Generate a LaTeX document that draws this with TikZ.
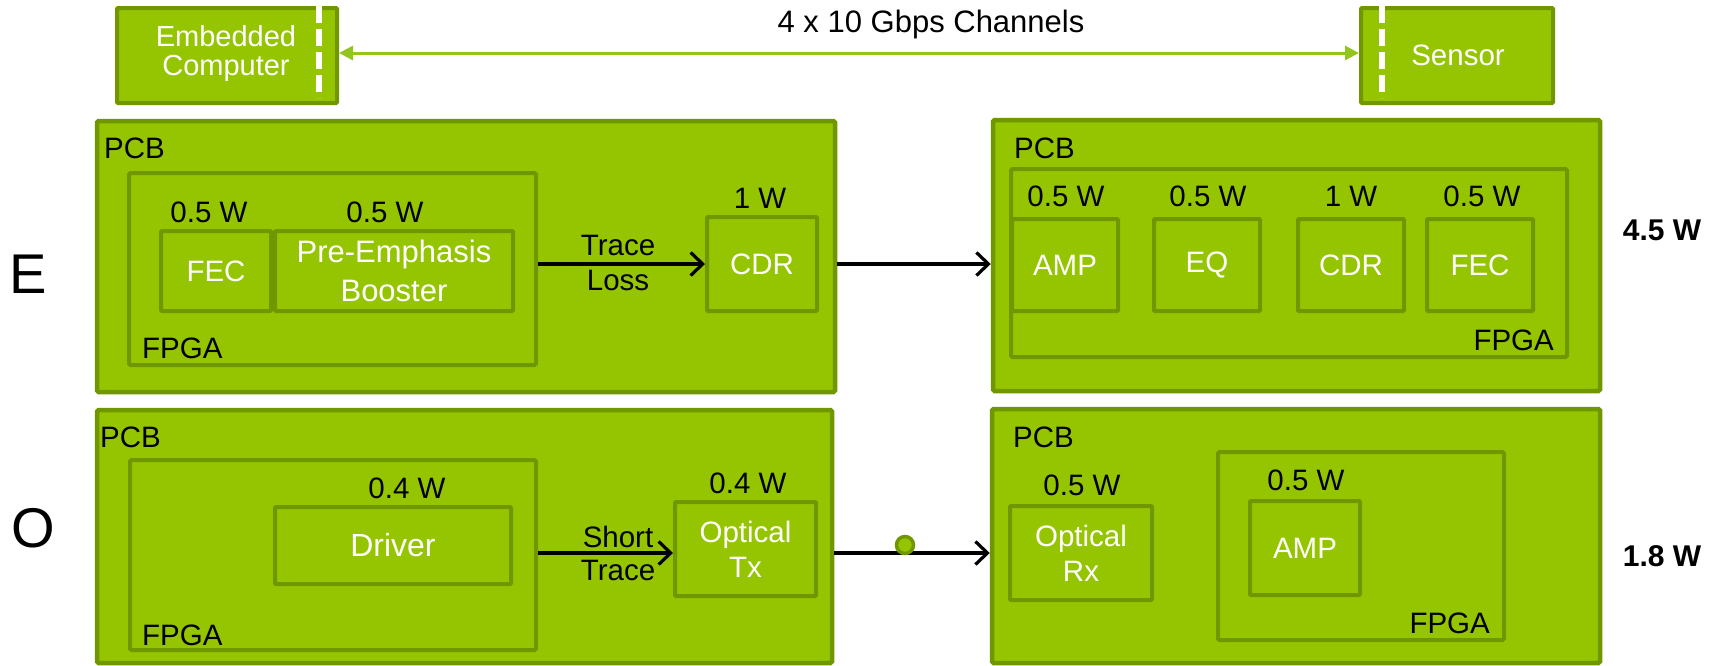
\documentclass[tikz,border=0pt]{standalone}
\usepackage{fontspec}
\setmainfont{Liberation Sans}
\usetikzlibrary{arrows.meta}
\definecolor{gr}{RGB}{148,197,0}
\definecolor{bd}{RGB}{112,150,0}
\definecolor{ag}{RGB}{146,198,30}
\newcommand\fs{\fontsize{29.5}{35}\selectfont}
\tikzset{
  pcb/.style={draw=bd, fill=gr, line width=4.5pt, rounded corners=1.5pt, inner sep=0pt},
  blk/.style={draw=bd, fill=gr, line width=4pt, rounded corners=1pt, inner sep=0pt, text=white, font=\fs, align=center},
  lbl/.style={inner sep=0pt, font=\fs, align=center},
  wlbl/.style={inner sep=0pt, font=\fontsize{30}{35}\selectfont\bfseries},
  big/.style={inner sep=0pt, font=\fontsize{56}{60}\selectfont},
  arr/.style={line width=3.2pt, -{Straight Barb[length=12pt,width=23pt,line width=3.2pt]}},
  wdash/.style={white, line width=6.5pt, dash pattern=on 17pt off 6pt},
}
\begin{document}
\begin{tikzpicture}[x=1pt,y=-1pt]
\useasboundingbox (0,0) rectangle (1721,665);
% top row
\node[blk, minimum width=220pt, minimum height=95pt] (emb) at (227,55.5) {};
\node[inner sep=0pt, text=white, font=\fontsize{29}{29}\selectfont, align=center] (embt) at (226,53) {Embedded\\Computer};
\coordinate (e1) at (319,6);
\coordinate (e2) at (319,98);
\draw[wdash] (e1) -- (e2);
\node[blk, minimum width=192pt, minimum height=95pt] (sen) at (1457,55.5) {};
\node[inner sep=0pt, text=white, font=\fontsize{29.5}{35}\selectfont] (sent) at (1458,55) {Sensor};
\coordinate (s1) at (1382,6);
\coordinate (s2) at (1382,98);
\draw[wdash] (s1) -- (s2);
\draw[ag, line width=3pt, {Triangle[length=14pt,width=14pt]}-{Triangle[length=14pt,width=14pt]}] (emb.east |- 0,53) -- (sen.west |- 0,53);
\node[lbl, font=\fontsize{31}{35}\selectfont] (ch) at (931,24) {4 x 10 Gbps Channels};

% E row left
\node[pcb, minimum width=738pt, minimum height=271pt] (pcb1) at (466,256.5) {};
\node[lbl, anchor=west] (pcb1l) at (104,148) {PCB};
\node[pcb, line width=4pt, minimum width=407pt, minimum height=192pt] (fpga1) at (332.5,269) {};
\node[lbl, anchor=west] (fpga1l) at (142,348) {FPGA};
\node[blk, minimum width=110pt, minimum height=80pt] (fec1) at (216,271) {FEC};
\node[lbl] (fec1w) at (209,212) {0.5 W};
\node[blk, font=\fontsize{31}{39}\selectfont, minimum width=238pt, minimum height=80pt] (pre) at (394,271) {Pre-Emphasis\\Booster};
\node[lbl] (prew) at (385,212) {0.5 W};
\node[blk, minimum width=110pt, minimum height=94pt] (cdr1) at (762,264) {CDR};
\node[lbl] (cdr1w) at (760,198) {1 W};
\draw[arr] (fpga1.east |- cdr1.west) -- (cdr1.west);
\node[lbl] (tl1) at (618,245) {Trace};
\node[lbl] (tl2) at (618,280) {Loss};

% E row right
\node[pcb, minimum width=607pt, minimum height=271pt] (pcb2) at (1296.5,255.5) {};
\node[lbl, anchor=west] (pcb2l) at (1014,148) {PCB};
\node[pcb, line width=4pt, minimum width=556pt, minimum height=188pt] (fpga2) at (1289,263) {};
\node[lbl, anchor=east] (fpga2l) at (1554,340) {FPGA};
\node[blk, minimum width=106pt, minimum height=92pt] (amp2) at (1065,265) {AMP};
\node[blk, minimum width=106pt, minimum height=92pt] (eq2) at (1207,265) {EQ};
\node[blk, minimum width=106pt, minimum height=92pt] (cdr2) at (1351,265) {CDR};
\node[blk, minimum width=106pt, minimum height=92pt] (fec2) at (1480,265) {FEC};
\node[lbl] (amp2w) at (1066,196) {0.5 W};
\node[lbl] (eq2w) at (1208,196) {0.5 W};
\node[lbl] (cdr2w) at (1351,196) {1 W};
\node[lbl] (fec2w) at (1482,196) {0.5 W};
\draw[arr] (pcb1.east |- cdr1.east) -- (pcb2.west |- cdr1.east);

% O row left
\node[pcb, minimum width=735pt, minimum height=253pt] (pcb3) at (464.5,536.5) {};
\node[lbl, anchor=west] (pcb3l) at (100,437) {PCB};
\node[pcb, line width=4pt, minimum width=406pt, minimum height=190pt] (fpga3) at (333,555) {};
\node[lbl, anchor=west] (fpga3l) at (142,635) {FPGA};
\node[blk, font=\fontsize{32}{35}\selectfont, minimum width=236pt, minimum height=77pt] (drv) at (393,545.5) {Driver};
\node[lbl] (drvw) at (407,488) {0.4 W};
\node[blk, minimum width=141pt, minimum height=94pt] (otx) at (745.5,549) {Optical\\Tx};
\node[lbl] (otxw) at (748,483) {0.4 W};
\coordinate (st) at (fpga3.east |- 0,553);
\draw[arr] (st) -- (otx.west |- st);
\node[lbl] (sh1) at (618,537) {Short};
\node[lbl] (sh2) at (618,570) {Trace};

% O row right
\node[pcb, minimum width=608pt, minimum height=254pt] (pcb4) at (1296,536) {};
\node[lbl, anchor=west] (pcb4l) at (1013,437) {PCB};
\node[blk, minimum width=142pt, minimum height=94pt] (orx) at (1081,553) {Optical\\Rx};
\node[lbl] (orxw) at (1082,485) {0.5 W};
\node[pcb, line width=4pt, minimum width=286pt, minimum height=188pt] (fpga4) at (1361,546) {};
\node[lbl, anchor=east] (fpga4l) at (1490,623) {FPGA};
\node[blk, minimum width=110pt, minimum height=94pt] (amp4) at (1305,548) {AMP};
\node[lbl] (amp4w) at (1306,480) {0.5 W};
\coordinate (ot) at (pcb3.east |- 0,553);
\draw[arr] (ot) -- (pcb4.west |- ot);
\node[circle, draw=bd, fill=gr, line width=3.5pt, minimum size=17pt, inner sep=0pt] (dot) at (905,545) {};

% side labels
\node[big] (E) at (28,274) {E};
\node[big] (O) at (33,528) {O};
\node[wlbl] (w1) at (1662,230) {4.5 W};
\node[wlbl] (w2) at (1662,556) {1.8 W};
\end{tikzpicture}
\end{document}
